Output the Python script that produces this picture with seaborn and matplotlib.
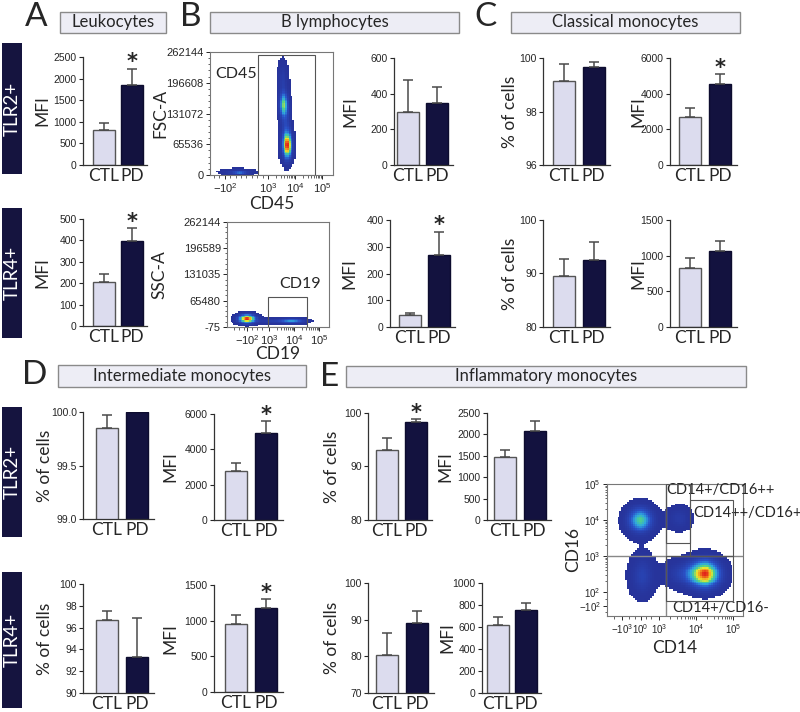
import numpy as np
import pandas as pd
import seaborn as sns
import matplotlib.pyplot as plt
from matplotlib.patches import Rectangle
from matplotlib.colors import LinearSegmentedColormap

sns.set_style("ticks")
plt.rcParams["font.family"] = ["Lato", "DejaVu Sans"]
plt.rcParams["mathtext.fontset"] = "custom"
plt.rcParams["mathtext.rm"] = "Liberation Sans"
plt.rcParams["mathtext.it"] = "Liberation Sans:italic"
plt.rcParams["mathtext.bf"] = "Liberation Sans:bold"

W, H = 800, 712
groups = ["CTL", "PD"]
bar_fill = ["#dcdcee", "#13123f"]
bar_edge = ["#555555", "#0d0c2e"]
flow_cmap = LinearSegmentedColormap.from_list(
    "flow", ["#27339a", "#2a52c8", "#2fa6e0", "#4fd08a", "#e8e830", "#f39a1e", "#e2231a"])

# means and SEM
leuko_tlr2 = [820, 1850]
leuko_tlr2_sem = [160, 380]
leuko_tlr4 = [205, 395]
leuko_tlr4_sem = [40, 63]
bcell_tlr2 = [300, 345]
bcell_tlr2_sem = [175, 95]
bcell_tlr4 = [45, 268]
bcell_tlr4_sem = [7, 89]
classic_tlr2_pct = [99.15, 99.68]
classic_tlr2_pct_sem = [0.62, 0.17]
classic_tlr2_mfi = [2700, 4550]
classic_tlr2_mfi_sem = [500, 550]
classic_tlr4_pct = [89.6, 92.6]
classic_tlr4_pct_sem = [3.1, 3.3]
classic_tlr4_mfi = [830, 1070]
classic_tlr4_mfi_sem = [135, 135]
inter_tlr2_pct = [99.85, 100.0]
inter_tlr2_pct_sem = [0.12, 0.0]
inter_tlr2_mfi = [2750, 4900]
inter_tlr2_mfi_sem = [450, 700]
inter_tlr4_pct = [96.7, 93.3]
inter_tlr4_pct_sem = [0.8, 3.6]
inter_tlr4_mfi = [950, 1180]
inter_tlr4_mfi_sem = [130, 120]
inflam_tlr2_pct = [93.0, 98.4]
inflam_tlr2_pct_sem = [2.3, 0.5]
inflam_tlr2_mfi = [1480, 2070]
inflam_tlr2_mfi_sem = [150, 240]
inflam_tlr4_pct = [80.5, 89.2]
inflam_tlr4_pct_sem = [5.8, 3.3]
inflam_tlr4_mfi = [615, 755]
inflam_tlr4_mfi_sem = [73, 67]

# flow cytometry populations: (x centre, y centre, x spread, y spread, weight)
# x is in display decades of the biexponential axis
cd45_clusters = [(1.9, 6000, 0.4, 4500, 0.35), (1.95, 5000, 0.12, 2200, 0.3),
                 (3.72, 62000, 0.13, 20000, 1.0), (3.58, 150000, 0.11, 18000, 0.72),
                 (3.65, 105000, 0.14, 40000, 0.3), (3.55, 205000, 0.13, 25000, 0.25)]
cd19_clusters = [(2.12, 20000, 0.26, 8000, 1.0), (3.9, 15000, 0.38, 4500, 0.55),
                 (3.0, 14000, 0.3, 4500, 0.2)]
cd14_clusters = [(2.5, 4.0, 0.25, 0.26, 0.72), (4.25, 2.5, 0.3, 0.28, 1.0),
                 (2.55, 2.45, 0.22, 0.38, 0.3), (3.55, 4.05, 0.22, 0.22, 0.22),
                 (3.6, 2.5, 0.3, 0.25, 0.25)]

fig = plt.figure(figsize=(8, 7.12), dpi=100)


def px_rect(x0, y0, x1, y1):
    return [x0 / W, 1 - y1 / H, (x1 - x0) / W, (y1 - y0) / H]


def bar_panel(axis_x, ctl_c, pd_c, top, bot, label_r, means, sems, ylim, yticks,
              ylabel, star=False, ticklabels=None):
    sp = pd_c - ctl_c
    x0, x1 = -(ctl_c - axis_x) / sp, 1.55
    wpx = (x1 - x0) * sp
    ax = fig.add_axes(px_rect(axis_x, top, axis_x + wpx, bot))
    df = pd.DataFrame({"group": groups, "value": means})
    sns.barplot(data=df, x="group", y="value", hue="group", palette=bar_fill,
                width=22 / sp, saturation=1, linewidth=1, legend=False, ax=ax)
    for p, ec in zip(ax.patches, bar_edge):
        p.set_edgecolor(ec)
    for i in range(2):
        if sems[i] > 0:
            ax.errorbar([i], [means[i]], yerr=[[0], [sems[i]]], fmt="none",
                        ecolor="#4a4a4a", elinewidth=1.1, capsize=3.5,
                        capthick=1.1, zorder=3)
    if star:
        ax.annotate("*", xy=(1, means[1] + sems[1]), xytext=(0, 4.5),
                    textcoords="offset points", ha="center", va="center",
                    fontsize=15, fontweight="bold", family="DejaVu Sans")
    ax.set_xlim(x0, x1)
    ax.set_ylim(ylim)
    ax.set_yticks(yticks)
    if ticklabels is not None:
        ax.set_yticklabels(ticklabels)
    sns.despine(ax=ax)
    for s in ax.spines.values():
        s.set_color("#333333")
        s.set_linewidth(0.9)
    ax.tick_params(axis="y", labelsize=7.5, length=3, width=0.8, pad=1.5,
                   labelfontfamily="Liberation Sans")
    ax.tick_params(axis="x", length=0, labelsize=12.5, pad=2)
    ax.set_xlabel("")
    ax.set_ylabel(ylabel, fontsize=12.5)
    ax.yaxis.set_label_coords((label_r - axis_x) / wpx, 0.5)
    return ax


def flow_panel(rect, xlim, ylim, clusters, xticks, xticklabels, yticks,
               yticklabels, xlabel, ylabel, xlab_y, ylab_x, xminor, yminor,
               ticksize=8):
    ax = fig.add_axes(px_rect(*rect))
    gx = np.linspace(xlim[0], xlim[1], 72)
    gy = np.linspace(ylim[0], ylim[1], 72)
    X, Y = np.meshgrid(gx, gy)
    Z = np.zeros_like(X)
    for cx, cy, sx, sy, w in clusters:
        Z += w * np.exp(-0.5 * (((X - cx) / sx) ** 2 + ((Y - cy) / sy) ** 2))
    Z = Z / Z.max()
    C = np.ma.masked_where(Z < 0.04, Z ** 2)
    ax.pcolormesh(X, Y, C, cmap=flow_cmap, vmin=0, vmax=1.0, shading="nearest")
    ax.set_xlim(xlim)
    ax.set_ylim(ylim)
    ax.set_xticks(xticks)
    ax.set_xticklabels(xticklabels)
    ax.set_yticks(yticks)
    ax.set_yticklabels(yticklabels)
    ax.set_xticks(xminor, minor=True)
    ax.set_yticks(yminor, minor=True)
    for s in ax.spines.values():
        s.set_color("#777777")
        s.set_linewidth(0.8)
    ax.tick_params(which="major", labelsize=ticksize, length=3, width=0.7, pad=1.5,
                   labelfontfamily="Liberation Sans")
    ax.tick_params(which="minor", length=1.8, width=0.5)
    ax.set_xlabel(xlabel, fontsize=12.5)
    ax.set_ylabel(ylabel, fontsize=12.5)
    ax.xaxis.set_label_coords(0.5, xlab_y)
    ax.yaxis.set_label_coords(ylab_x, 0.5)
    return ax


def gate(ax, x0, y0, x1, y1, color="#555555"):
    ax.add_patch(Rectangle((x0, y0), x1 - x0, y1 - y0, fill=False,
                           edgecolor=color, linewidth=0.8, zorder=4))


def title_box(x0, y0, x1, y1, text):
    fig.add_artist(Rectangle((x0 / W, 1 - y1 / H), (x1 - x0) / W, (y1 - y0) / H,
                             transform=fig.transFigure, facecolor="#ededf5",
                             edgecolor="#8a8a8a", linewidth=1))
    fig.text((x0 + x1) / 2 / W, 1 - (y0 + y1) / 2 / H, text, ha="center",
             va="center", fontsize=12)


def row_tag(y0, y1, text):
    fig.add_artist(Rectangle((2 / W, 1 - y1 / H), 20 / W, (y1 - y0) / H,
                             transform=fig.transFigure, facecolor="#15143f",
                             edgecolor="none"))
    fig.text(12 / W, 1 - (y0 + y1) / 2 / H, text, ha="center", va="center",
             rotation=90, color="white", fontsize=13.5)


# panel letters, headers, row tags
for letter, x, y in [("A", 25, 2), ("B", 180, 2), ("C", 474, 2), ("D", 22, 360), ("E", 320, 362)]:
    fig.text(x / W, 1 - y / H, letter, fontsize=24, ha="left", va="top")
title_box(60, 12, 166, 33, "Leukocytes")
title_box(210, 12, 459, 33, "B lymphocytes")
title_box(511, 12, 740, 33, "Classical monocytes")
title_box(58, 365, 306, 387, "Intermediate monocytes")
title_box(346, 366, 746, 387, "Inflammatory monocytes")
row_tag(43, 174, "TLR2+")
row_tag(208, 338, "TLR4+")
row_tag(407, 537, "TLR2+")
row_tag(572, 708, "TLR4+")

# A
bar_panel(83, 104, 132, 57, 165, 50, leuko_tlr2, leuko_tlr2_sem, (0, 2500),
          range(0, 2501, 500), "MFI", star=True)
bar_panel(83, 104, 132, 219, 326, 50, leuko_tlr4, leuko_tlr4_sem, (0, 500),
          range(0, 501, 100), "MFI", star=True)

# B
lin_minor_x = [1.0, 1.2, 1.6, 1.8, 2.0, 2.2, 2.4, 2.6, 2.8] + \
    [d + np.log10(k) for d in (3, 4) for k in range(2, 10)]
ax = flow_panel((210, 52, 333, 175), (0.85, 5.41), (0, 262144), cd45_clusters,
                [1.41, 3, 4, 5], ["$-10^2$", "$10^3$", "$10^4$", "$10^5$"],
                [0, 65536, 131072, 196608, 262144],
                ["0", "65536", "131072", "196608", "262144"],
                "CD45", "FSC-A", -0.17, -0.34, lin_minor_x,
                np.arange(0, 262144, 13107))
gate(ax, 2.63, 0, 4.74, 255750)
ax.text(2.6, 215000, "CD45", ha="right", va="center", fontsize=11.5)

ax = flow_panel((227, 222, 329, 327), (1.32, 5.4), (-75, 262144), cd19_clusters,
                [2.12, 3, 4, 5], ["$-10^2$", "$10^3$", "$10^4$", "$10^5$"],
                [-75, 65480, 131035, 196589, 262144],
                ["-75", "65480", "131035", "196589", "262144"],
                "CD19", "SSC-A", -0.18, -0.58,
                [1.6, 1.8, 2.0, 2.3, 2.5, 2.7] + [d + np.log10(k) for d in (3, 4) for k in range(2, 10)],
                np.arange(0, 262144, 13107))
gate(ax, 2.96, -75, 4.52, 75000)
ax.text(4.25, 107000, "CD19", ha="center", va="center", fontsize=11.5)

bar_panel(394, 408, 437, 58, 165, 358, bcell_tlr2, bcell_tlr2_sem, (0, 600),
          [0, 200, 400, 600], "MFI")
bar_panel(390, 409.5, 439, 220, 327, 357, bcell_tlr4, bcell_tlr4_sem, (0, 400),
          range(0, 401, 100), "MFI", star=True)

# C
bar_panel(543, 563.5, 593.5, 58, 165, 518, classic_tlr2_pct, classic_tlr2_pct_sem,
          (96, 100), [96, 98, 100], "% of cells")
bar_panel(670, 690, 720, 58, 165, 646, classic_tlr2_mfi, classic_tlr2_mfi_sem,
          (0, 6000), [0, 2000, 4000, 6000], "MFI", star=True)
bar_panel(543, 563.5, 593.5, 220, 327, 518, classic_tlr4_pct, classic_tlr4_pct_sem,
          (80, 100), [80, 90, 100], "% of cells")
bar_panel(670, 690, 720, 220, 327, 646, classic_tlr4_mfi, classic_tlr4_mfi_sem,
          (0, 1500), [0, 500, 1000, 1500], "MFI")

# D
bar_panel(83, 107, 137, 412, 519, 53, inter_tlr2_pct, inter_tlr2_pct_sem,
          (99, 100), [99, 99.5, 100], "% of cells", ticklabels=["99.0", "99.5", "100.0"])
bar_panel(214, 236, 266, 414, 520, 178, inter_tlr2_mfi, inter_tlr2_mfi_sem,
          (0, 6000), [0, 2000, 4000, 6000], "MFI", star=True)
bar_panel(83, 107, 137, 584, 693, 53, inter_tlr4_pct, inter_tlr4_pct_sem,
          (90, 100), range(90, 101, 2), "% of cells")
bar_panel(214, 236, 266, 585, 692, 178, inter_tlr4_mfi, inter_tlr4_mfi_sem,
          (0, 1500), [0, 500, 1000, 1500], "MFI", star=True)

# E
bar_panel(368, 386.5, 416, 413, 520, 340, inflam_tlr2_pct, inflam_tlr2_pct_sem,
          (80, 100), [80, 90, 100], "% of cells", star=True)
bar_panel(487, 504.5, 534.5, 413, 520, 453, inflam_tlr2_mfi, inflam_tlr2_mfi_sem,
          (0, 2500), range(0, 2501, 500), "MFI")
bar_panel(368, 387, 417, 583, 693, 340, inflam_tlr4_pct, inflam_tlr4_pct_sem,
          (70, 100), [70, 80, 90, 100], "% of cells")
bar_panel(482, 498, 526, 583, 693, 455, inflam_tlr4_mfi, inflam_tlr4_mfi_sem,
          (0, 1000), range(0, 1001, 200), "MFI")

log_minor = [d + np.log10(k) for d in (3, 4) for k in range(2, 10)]
ax = flow_panel((607, 484, 743, 616), (1.6, 5.27), (1.33, 5.0), cd14_clusters,
                [2.0, 2.51, 3, 4, 5], ["$-10^3$", "$10^0$", "$10^3$", "$10^4$", "$10^5$"],
                [1.6, 2, 3, 4, 5], ["$-10^2$", "$10^2$", "$10^3$", "$10^4$", "$10^5$"],
                "CD14", "CD16", -0.18, -0.19,
                [1.8, 2.2, 2.35, 2.65, 2.8] + log_minor,
                [1.45, 1.8] + [d + np.log10(k) for d in (2, 3, 4) for k in range(2, 10)],
                ticksize=7)
ax.axvline(3.19, color="#888888", lw=1, zorder=4)
ax.axhline(3.0, color="#888888", lw=1, zorder=4)
gate(ax, 3.19, 3.36, 3.84, 5.0)
gate(ax, 3.84, 3.0, 5.0, 4.55)
gate(ax, 3.19, 1.75, 5.0, 3.0)
ax.text(3.19, 4.83, "CD14+/CD16++", ha="left", va="center", fontsize=10.5, clip_on=False)
ax.text(3.92, 4.2, "CD14++/CD16+", ha="left", va="center", fontsize=10.5, clip_on=False)
ax.text(3.35, 1.55, "CD14+/CD16-", ha="left", va="center", fontsize=10.5, clip_on=False)

fig.savefig("out.png", dpi=100)
